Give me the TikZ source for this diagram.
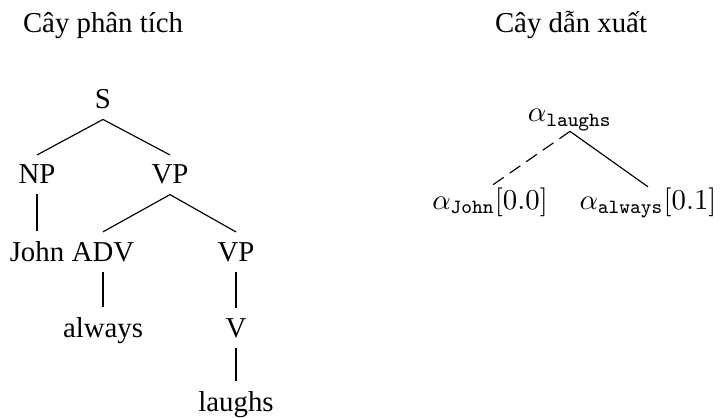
\documentclass[tikz,border=0pt]{standalone}
\usepackage[no-math]{fontspec}
\setmainfont{Liberation Serif}
\tikzset{
  word/.style={anchor=base},
  deriv/.style={anchor=base,inner sep=0pt},
  adjoin/.style={dash pattern=on 4.5pt off 2.5pt}
}
\begin{document}
\begin{tikzpicture}[x=0.3472pt,y=0.3472pt]
\useasboundingbox (0,0) rectangle (721,417);
% titles
\node[word] (tparse) at (103,384) {Cây phân tích};
\node[word] (tderiv) at (571,384) {Cây dẫn xuất};
% parse tree
\node[word] (s) at (103,308) {S};
\node[word] (np) at (37,233) {NP};
\node[word] (vp) at (170,233) {VP};
\node[word] (john) at (37,156) {John};
\node[word] (adv) at (103,156) {ADV};
\node[word] (vpb) at (236,156) {VP};
\node[word] (always) at (103,80) {always};
\node[word] (v) at (236,80) {V};
\node[word] (laughs) at (236,6) {laughs};
\draw (s.south) -- (np.north);
\draw (s.south) -- (vp.north);
\draw (np.south) -- (john.north);
\draw (vp.south) -- (adv.north);
\draw (vp.south) -- (vpb.north);
\draw (adv.south) -- (always.north);
\draw (vpb.south) -- (v.north);
\draw (v.south) -- (laughs.north);
% derivation tree
\node[deriv] (alaughs) at (570,295) {$\alpha_{\mathtt{laughs}}$};
\node[deriv] (ajohn) at (490,208) {$\alpha_{\mathtt{John}}[0.0]$};
\node[deriv] (aalways) at (648,208) {$\alpha_{\mathtt{always}}[0.1]$};
\draw[adjoin] (alaughs.south) -- (ajohn.north);
\draw (alaughs.south) -- (aalways.north);
\end{tikzpicture}
\end{document}
